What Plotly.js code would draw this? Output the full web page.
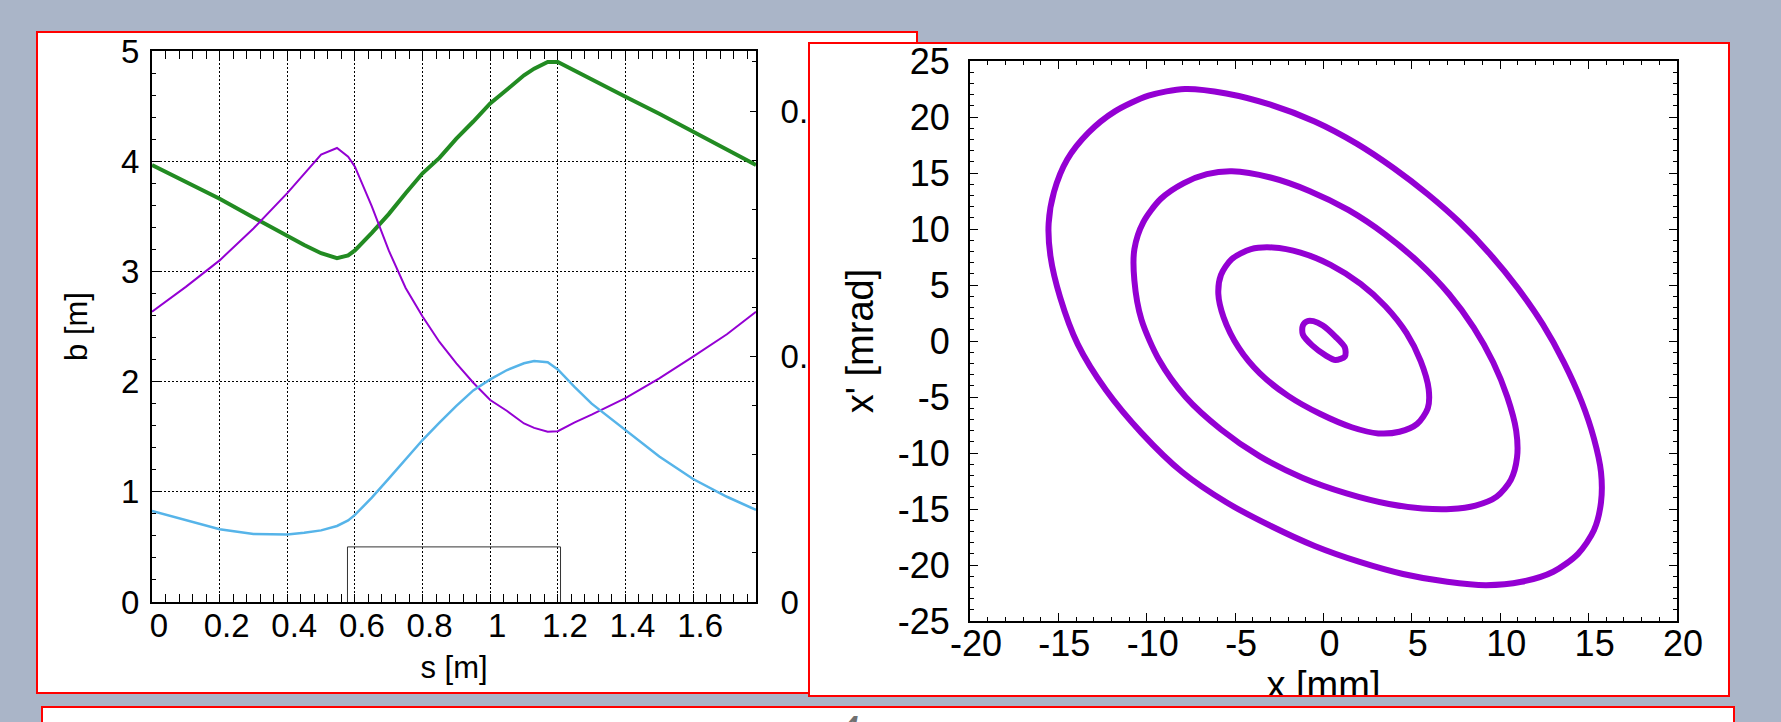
<!DOCTYPE html>
<html>
<head>
<meta charset="utf-8">
<script src="https://cdn.plot.ly/plotly-3.0.1.min.js"></script>
<style>
html,body{margin:0;padding:0;width:1781px;height:722px;overflow:hidden;background:#aab5c8;}
.panel{position:absolute;box-sizing:border-box;border:2px solid #ff0000;background:#ffffff;overflow:hidden;}
#leftPanel{left:36px;top:31px;width:882px;height:663px;z-index:1;}
#rightPanel{left:808px;top:42px;width:922px;height:655px;z-index:2;}
#bottomPanel{left:41px;top:706px;width:1694px;height:40px;z-index:1;}
#leftChart{position:absolute;left:0;top:0;width:878px;height:659px;}
#rightChart{position:absolute;left:0;top:-20px;width:918px;height:711px;}
#glyph{position:absolute;left:794px;top:2px;font-family:"Liberation Sans",Arial,sans-serif;font-size:40px;line-height:40px;font-style:italic;color:#707070;}
</style>
</head>
<body>
<div id="leftPanel" class="panel"><div id="leftChart"></div></div>
<div id="rightPanel" class="panel"><div id="rightChart"></div></div>
<div id="bottomPanel" class="panel"><div id="glyph">4</div></div>
<script>
// ---- Left chart data: beta functions along s ----
var sPos       = [0, 0.1, 0.2, 0.3, 0.4, 0.45, 0.5, 0.547, 0.58, 0.6, 0.65, 0.7, 0.75, 0.8, 0.85, 0.9, 0.95, 1.0, 1.05, 1.1, 1.13, 1.17, 1.2, 1.25, 1.3, 1.4, 1.5, 1.6, 1.7, 1.786];
var betaGreen  = [3.966, 3.81, 3.66, 3.49, 3.32, 3.24, 3.165, 3.12, 3.145, 3.19, 3.35, 3.52, 3.71, 3.89, 4.03, 4.205, 4.36, 4.525, 4.65, 4.78, 4.84, 4.90, 4.90, 4.82, 4.74, 4.585, 4.43, 4.27, 4.11, 3.966];
var betaPurple = [2.634, 2.86, 3.10, 3.39, 3.71, 3.89, 4.06, 4.12, 4.04, 3.95, 3.59, 3.19, 2.85, 2.59, 2.36, 2.166, 1.99, 1.833, 1.733, 1.62, 1.58, 1.545, 1.55, 1.63, 1.70, 1.85, 2.03, 2.226, 2.43, 2.634];
var betaBlue   = [0.826, 0.741, 0.66, 0.617, 0.613, 0.628, 0.65, 0.69, 0.74, 0.79, 0.947, 1.12, 1.30, 1.47, 1.627, 1.78, 1.92, 2.02, 2.105, 2.166, 2.187, 2.175, 2.11, 1.95, 1.80, 1.56, 1.32, 1.116, 0.955, 0.835];
// magnet outline
var magnetS = [0.578, 0.578, 1.208, 1.208];
var magnetH = [0, 0.5, 0.5, 0];
// tick labels
var sTickVals = [0, 0.2, 0.4, 0.6, 0.8, 1, 1.2, 1.4, 1.6];
var sTickText = ["0", "0.2", "0.4", "0.6", "0.8", "1", "1.2", "1.4", "1.6"];
var bTickVals = [0, 1, 2, 3, 4, 5];
var bTickText = ["0", "1", "2", "3", "4", "5"];
var dTickVals = [0, 0.25, 0.5];
var dTickText = ["0", "0.25", "0.5"];

// ---- Right chart data: phase-space ellipses (x [mm], x' [mrad]) ----
var ell1X = [-7.84, -5.5, -3.0, -0.5, 1.9, 4.0, 5.9, 7.7, 9.4, 11.0, 12.4, 13.6, 14.6, 15.3, 15.7, 15.7, 15.3, 14.4, 13.0, 11.2, 9.2, 7.0, 4.5, 2.0, -0.5, -3.0, -5.5, -8.0, -10.3, -12.3, -13.9, -14.9, -15.45, -15.55, -15.25, -14.5, -13.3, -11.8, -9.9, -7.84];
var ell1Y = [22.5, 22.1, 21.1, 19.6, 17.6, 15.4, 13.1, 10.6, 7.8, 4.7, 1.5, -1.9, -5.4, -8.7, -11.7, -14.4, -16.9, -19.0, -20.6, -21.5, -21.8, -21.5, -20.8, -19.7, -18.3, -16.5, -14.4, -11.7, -8.2, -4.4, -0.3, 3.9, 7.6, 10.5, 13.3, 16.2, 18.6, 20.5, 21.9, 22.5];
var ell2X = [-5.18, -3.0, -0.8, 1.4, 3.5, 5.4, 7.1, 8.5, 9.6, 10.4, 10.9, 10.95, 10.6, 9.8, 8.6, 7.2, 5.6, 3.7, 1.3, -1.2, -3.6, -5.8, -7.8, -9.3, -10.3, -10.7, -10.7, -10.2, -9.2, -7.9, -6.6, -5.18];
var ell2Y = [15.16, 14.6, 13.4, 11.7, 9.5, 7.0, 4.2, 1.2, -1.9, -5.0, -8.0, -10.4, -12.4, -13.9, -14.7, -15.0, -14.95, -14.55, -13.6, -12.2, -10.3, -7.9, -5.0, -1.7, 1.9, 5.4, 8.2, 10.6, 12.7, 14.1, 14.9, 15.16];
var ell3X = [-2.87, -1.3, 0.4, 2.1, 3.5, 4.7, 5.5, 5.95, 5.9, 5.3, 4.3, 3.1, 1.6, -0.2, -2.0, -3.6, -4.8, -5.65, -5.95, -5.8, -5.2, -4.1, -2.87];
var ell3Y = [8.35, 7.9, 6.8, 5.1, 3.1, 0.7, -1.8, -4.3, -6.0, -7.4, -8.1, -8.25, -7.7, -6.5, -4.9, -2.9, -0.6, 2.1, 4.2, 5.9, 7.3, 8.2, 8.35];
var ell4X = [-0.57, -0.04, 0.67, 1.21, 1.21, 0.67, 0.14, -0.64, -1.17, -1.17, -0.92, -0.57];
var ell4Y = [1.77, 1.38, 0.39, -0.59, -1.38, -1.69, -1.3, -0.39, 0.59, 1.38, 1.77, 1.77];
var xTickVals = [-20, -15, -10, -5, 0, 5, 10, 15, 20];
var xTickText = ["-20", "-15", "-10", "-5", "0", "5", "10", "15", "20"];
var xpTickVals = [-25, -20, -15, -10, -5, 0, 5, 10, 15, 20, 25];
var xpTickText = ["-25", "-20", "-15", "-10", "-5", "0", "5", "10", "15", "20", "25"];

var FONT = "Liberation Sans, Arial, sans-serif";
var PURPLE = "#9400d3";

// ---------- Left chart ----------
var leftTraces = [
  {x: sPos, y: betaGreen, type: "scatter", mode: "lines", line: {color: "#228b22", width: 4}, name: "green"},
  {x: sPos, y: betaPurple, type: "scatter", mode: "lines", line: {color: PURPLE, width: 2}, name: "purple"},
  {x: sPos, y: betaBlue, type: "scatter", mode: "lines", line: {color: "#56b4e9", width: 2.5}, name: "blue"},
  {x: magnetS, y: magnetH, type: "scatter", mode: "lines", line: {color: "#333333", width: 1}, name: "magnet"},
  {x: [], y: [], type: "scatter", mode: "lines", yaxis: "y2", name: "right axis", hoverinfo: "skip"}
];
var leftLayout = {
  width: 878, height: 659,
  margin: {l: 114, r: 160, t: 18, b: 90, pad: 0},
  paper_bgcolor: "#ffffff", plot_bgcolor: "#ffffff",
  showlegend: false,
  font: {family: FONT, color: "#000000", size: 33},
  xaxis: {
    range: [0, 1.786], tickvals: sTickVals, ticktext: sTickText,
    ticks: "inside", ticklen: 8, tickwidth: 1, tickcolor: "#000",
    showline: true, linewidth: 2, linecolor: "#000", mirror: "allticks",
    showgrid: true, gridcolor: "#000", gridwidth: 1, griddash: "2px,2px",
    zeroline: false, tickfont: {size: 33}, ticklabelstandoff: -7, ticklabelshift: 7,
    ticklabeloverflow: "allow",
    minor: {dtick: 0.04, tick0: 0, ticks: "inside", ticklen: 4, tickcolor: "#000", showgrid: false},
    title: {text: "s [m]", font: {size: 31}, standoff: 14}
  },
  yaxis: {
    range: [0, 5], tickvals: bTickVals, ticktext: bTickText,
    ticks: "inside", ticklen: 8, tickwidth: 1, tickcolor: "#000",
    showline: true, linewidth: 2, linecolor: "#000", mirror: true,
    showgrid: true, gridcolor: "#000", gridwidth: 1, griddash: "2px,2px",
    zeroline: false, tickfont: {size: 33}, ticklabelstandoff: 4,
    ticklabeloverflow: "allow",
    minor: {dtick: 0.2, tick0: 0, ticks: "inside", ticklen: 4, tickcolor: "#000", showgrid: false},
    title: {text: "b [m]", font: {size: 31}, standoff: 24}
  },
  yaxis2: {
    overlaying: "y", side: "right", anchor: "x",
    range: [0, 0.5611], tickvals: dTickVals, ticktext: dTickText,
    ticks: "inside", ticklen: 6, tickwidth: 1, tickcolor: "#000",
    showline: true, linewidth: 2, linecolor: "#000",
    showgrid: false, zeroline: false, tickfont: {size: 33}, ticklabelstandoff: 16,
    ticklabeloverflow: "allow",
    minor: {dtick: 0.05, tick0: 0, ticks: "inside", ticklen: 4, tickcolor: "#000", showgrid: false}
  }
};

// ---------- Right chart ----------
function ellTrace(xs, ys) {
  return {x: xs, y: ys, type: "scatter", mode: "lines",
          line: {color: PURPLE, width: 6, shape: "spline", smoothing: 0.8}};
}
var rightTraces = [ellTrace(ell1X, ell1Y), ellTrace(ell2X, ell2Y), ellTrace(ell3X, ell3Y), ellTrace(ell4X, ell4Y)];
var rightLayout = {
  width: 918, height: 711,
  margin: {l: 160, r: 51, t: 37, b: 114, pad: 0},
  paper_bgcolor: "#ffffff", plot_bgcolor: "#ffffff",
  showlegend: false,
  font: {family: FONT, color: "#000000", size: 36},
  xaxis: {
    range: [-20, 20], tickvals: xTickVals, ticktext: xTickText,
    ticks: "inside", ticklen: 8, tickwidth: 1, tickcolor: "#000",
    showline: true, linewidth: 2, linecolor: "#000", mirror: "allticks",
    showgrid: false, zeroline: false, tickfont: {size: 36}, ticklabelstandoff: -10, ticklabelshift: 6,
    ticklabeloverflow: "allow",
    minor: {dtick: 1, tick0: 0, ticks: "inside", ticklen: 4, tickcolor: "#000", showgrid: false},
    title: {text: "x [mm]", font: {size: 38}, standoff: 3}
  },
  yaxis: {
    range: [-25, 25], tickvals: xpTickVals, ticktext: xpTickText,
    ticks: "inside", ticklen: 8, tickwidth: 1, tickcolor: "#000",
    showline: true, linewidth: 2, linecolor: "#000", mirror: "allticks",
    showgrid: false, zeroline: false, tickfont: {size: 36}, ticklabelstandoff: 11,
    ticklabeloverflow: "allow",
    minor: {dtick: 1, tick0: 0, ticks: "inside", ticklen: 4, tickcolor: "#000", showgrid: false},
    title: {text: "x' [mrad]", font: {size: 38}, standoff: 12}
  }
};

var cfg = {staticPlot: true, displayModeBar: false};
Plotly.newPlot("leftChart", leftTraces, leftLayout, cfg);
Plotly.newPlot("rightChart", rightTraces, rightLayout, cfg);
</script>
</body>
</html>
